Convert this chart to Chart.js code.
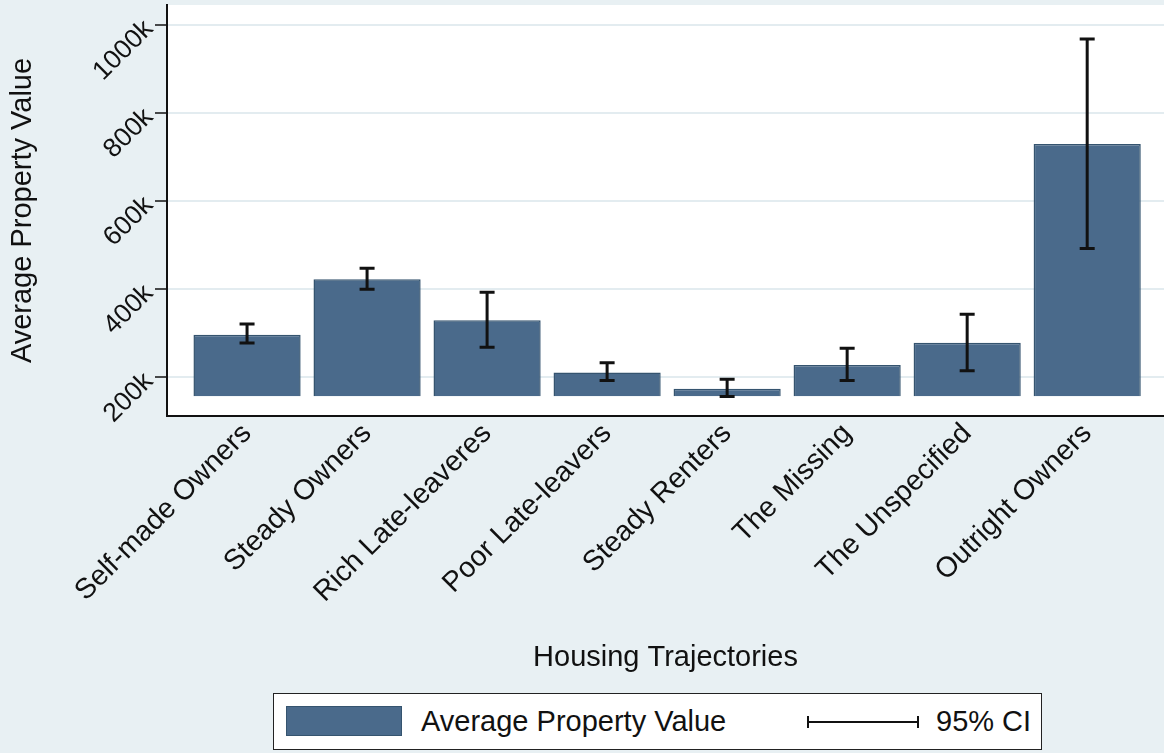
<!DOCTYPE html>
<html>
<head>
<meta charset="utf-8">
<script src="https://cdn.jsdelivr.net/npm/chart.js@4"></script>
<style>
  body { margin: 0; background: #e8f0f3; font-family: "Liberation Sans", Arial, sans-serif; }
  #wrap { position: relative; width: 1164px; height: 753px; overflow: hidden; }
  #legend {
    position: absolute; left: 273px; top: 693px; width: 769px; height: 57px;
    box-sizing: border-box; border: 1.5px solid #222; background: #fff;
    font-size: 29px; color: #111;
  }
  #legend .swatch {
    position: absolute; left: 12px; top: 12px; width: 116px; height: 30px;
    box-sizing: border-box; background: #4a6a8b; border: 1.5px solid #35546f;
  }
  #legend .lbl { position: absolute; top: 10px; line-height: 34px; white-space: nowrap; }
  #legend .ci {
    position: absolute; left: 533px; top: 22px; width: 112px; height: 12px;
    box-sizing: border-box; border-left: 2px solid #111; border-right: 2px solid #111;
  }
  #legend .ci::after {
    content: ""; position: absolute; left: 0; right: 0; top: 5px; height: 2px; background: #111;
  }
</style>
</head>
<body>
<div id="wrap">
  <canvas id="barChart"></canvas>
  <div id="legend">
    <div class="swatch"></div>
    <div class="lbl" style="left:147px">Average Property Value</div>
    <div class="ci"></div>
    <div class="lbl" style="left:662px">95% CI</div>
  </div>
</div>
<script>
// Housing trajectory groups
const categories = ['Self-made Owners', 'Steady Owners', 'Rich Late-leaveres', 'Poor Late-leavers',
    'Steady Renters', 'The Missing', 'The Unspecified', 'Outright Owners'];

// Mean property value and 95% CI bounds
const values = [297000, 423000, 330000, 211000, 174500, 228000, 279000, 730000];
const ciLow = [278000, 400500, 268500, 193000, 156500, 193000, 215500, 493000];
const ciHigh = [321500, 448000, 393500, 233500, 196000, 266500, 343500, 968500];

const barBase = 157500;
const yTicks = [200000, 400000, 600000, 800000, 1000000];

const barColor = '#4a6a8b';

// white plot region
const plotBackground = {
    id: 'plotBackground',
    beforeDraw(chart) {
        const {ctx, chartArea: a} = chart;
        ctx.save();
        ctx.fillStyle = '#ffffff';
        ctx.fillRect(a.left, a.top, a.right - a.left, a.bottom - a.top);
        ctx.restore();
    }
};

// confidence interval whiskers
const errorBars = {
    id: 'errorBars',
    afterDatasetsDraw(chart) {
        const {ctx, scales: {x, y}} = chart;
        ctx.save();
        ctx.strokeStyle = '#111';
        ctx.lineWidth = 3;
        ctx.lineCap = 'butt';
        categories.forEach((c, i) => {
            const px = x.getPixelForValue(i);
            const lo = y.getPixelForValue(ciLow[i]);
            const hi = y.getPixelForValue(ciHigh[i]);
            ctx.beginPath();
            ctx.moveTo(px, lo); ctx.lineTo(px, hi);
            ctx.moveTo(px - 7.5, lo); ctx.lineTo(px + 7.5, lo);
            ctx.moveTo(px - 7.5, hi); ctx.lineTo(px + 7.5, hi);
            ctx.stroke();
        });
        ctx.restore();
    }
};

const ctxBar = document.getElementById('barChart').getContext('2d');
new Chart(ctxBar, {
    type: 'bar',
    data: {
        datasets: [{
            label: 'Average Property Value',
            data: values.map((v, i) => ({x: i, y: v})),
            base: barBase,
            backgroundColor: barColor,
            borderColor: '#35546f',
            borderWidth: 1.5,
            barPercentage: 0.893,
            categoryPercentage: 1
        }]
    },
    options: {
        responsive: true,
        maintainAspectRatio: false,
        animation: false,
        layout: { padding: { left: 0, right: 0, top: 5, bottom: 78 } },
        plugins: {
            legend: { display: false },
            tooltip: { enabled: false }
        },
        scales: {
            x: {
                type: 'linear',
                offset: false,
                min: -0.667,
                max: 7.64,
                afterBuildTicks: (s) => { s.ticks = categories.map((c, i) => ({value: i})); },
                afterFit: (s) => { s.height = 259; s.paddingLeft = 0; s.paddingRight = 0; },
                grid: { display: false, drawTicks: false, tickLength: 0, offset: false },
                border: { color: '#111', width: 2 },
                ticks: {
                    autoSkip: false,
                    minRotation: 45,
                    maxRotation: 45,
                    padding: 1,
                    color: '#111',
                    font: { family: 'Liberation Sans', size: 28.5 },
                    callback: (v) => categories[v]
                },
                title: {
                    display: true,
                    text: 'Housing Trajectories',
                    color: '#111',
                    padding: 0,
                    font: { family: 'Liberation Sans', size: 29 }
                }
            },
            y: {
                min: 112500,
                max: 1045500,
                afterBuildTicks: (s) => { s.ticks = yTicks.map(v => ({value: v})); },
                afterFit: (s) => { s.width = 167; s.paddingTop = 0; s.paddingBottom = 0; },
                grid: {
                    color: '#e3ecf0',
                    lineWidth: 2,
                    tickColor: '#111',
                    tickWidth: 1.5,
                    tickLength: 12
                },
                border: { color: '#111', width: 2 },
                ticks: {
                    minRotation: 45,
                    maxRotation: 45,
                    padding: 6,
                    color: '#111',
                    font: { family: 'Liberation Sans', size: 26.5 },
                    callback: (v) => (v / 1000) + 'k'
                },
                title: {
                    display: true,
                    text: 'Average Property Value',
                    color: '#111',
                    padding: { top: 6, bottom: 0 },
                    font: { family: 'Liberation Sans', size: 29 }
                }
            }
        }
    },
    plugins: [plotBackground, errorBars]
});
</script>
</body>
</html>
